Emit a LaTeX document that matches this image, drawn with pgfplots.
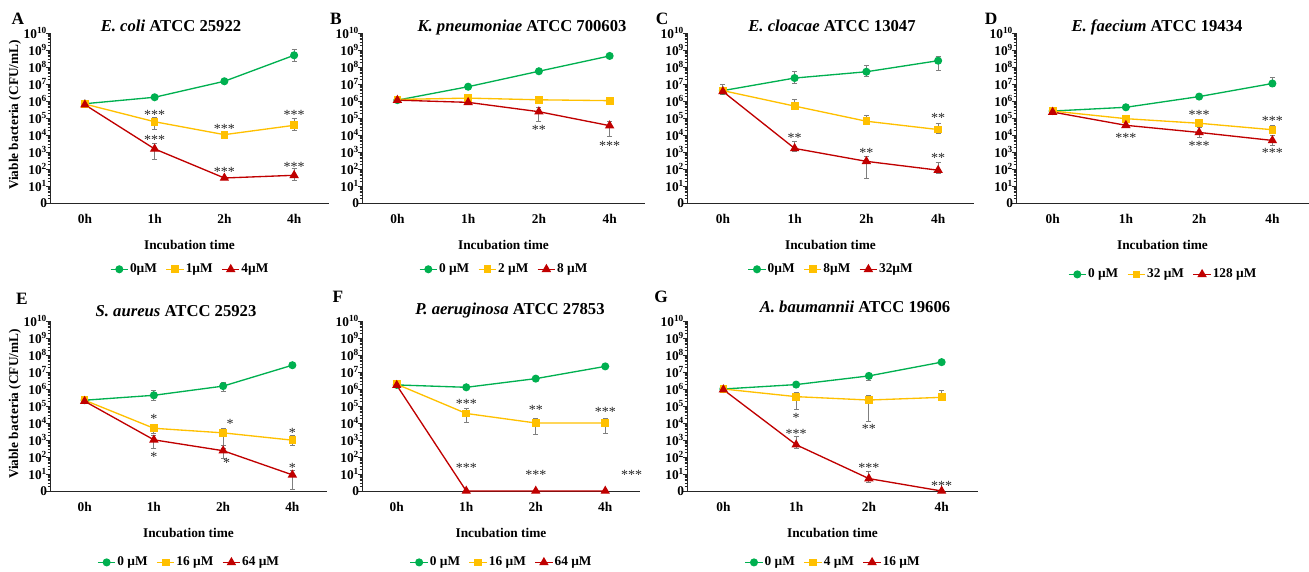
\documentclass[border=0pt]{standalone}
\usepackage{fontspec}
\setmainfont{Liberation Serif}
\usepackage{pgfplots}
\pgfplotsset{compat=1.18}
\definecolor{cgreen}{HTML}{00B050}
\definecolor{cgold}{HTML}{FFC000}
\definecolor{cred}{HTML}{C00000}
\definecolor{cerr}{HTML}{7F7F7F}

% log-style minor ticks on the decade axis (values are log10 CFU/mL)
\def\minorlist{-1}
\foreach \d in {0,...,9}{%
  \foreach \m in {0.301,0.477,0.602,0.699,0.778,0.845,0.903,0.954}{%
    \pgfmathsetmacro\v{\d+\m}\xdef\minorlist{\minorlist,\v}}}

\newcommand\fs[1]{\fontsize{#1}{#1}\selectfont}

\pgfplotsset{
  panel/.style={
    scale only axis, height=127.5pt,
    xmin=-0.5, xmax=3.5, ymin=0, ymax=10,
    clip=false,
    axis lines=left, axis line style={-, black!85, line width=0.6pt},
    xtick={0,1,2,3}, xticklabels={0h,1h,2h,4h},
    x tick style={draw=none},
    xticklabel style={anchor=center, yshift=-9pt, font=\bfseries\fs{10}},
    ytick={0,...,10},
    yticklabels={0,10\textsuperscript{1},10\textsuperscript{2},10\textsuperscript{3},10\textsuperscript{4},10\textsuperscript{5},10\textsuperscript{6},10\textsuperscript{7},10\textsuperscript{8},10\textsuperscript{9},10\textsuperscript{10}},
    yticklabel style={font=\bfseries\fs{10}, inner sep=0.5pt, xshift=1.5pt},
    minor ytick/.expand once=\minorlist,
    tick align=outside, major tick length=3pt, minor tick length=1.8pt,
    y tick style={black!85, line width=0.5pt},
    xlabel={Incubation time},
    xlabel style={at={(axis description cs:0.5,-0.245)}, anchor=center, font=\bfseries\fs{10}},
    legend style={at={(0.5,-0.39)}, anchor=center, draw=none, fill=none,
      legend columns=-1, font=\bfseries\fs{10}, inner sep=0pt,
      nodes={inner sep=0.5pt},
      /tikz/every odd column/.append style={column sep=0.5pt},
      /tikz/every even column/.append style={column sep=6pt}},
    legend image code/.code={\draw[mark repeat=2, mark phase=2]
      plot coordinates {(0cm,0cm) (0.23cm,0cm) (0.46cm,0cm)};},
  },
  ser/.style={color=#1, line width=1pt, mark options={solid, fill=#1},
    error bars/y dir=both, error bars/y explicit,
    error bars/error bar style={cerr, line width=0.6pt},
    error bars/error mark options={rotate=90, mark size=1.8pt, cerr, line width=0.6pt}},
  gser/.style={ser=cgreen, mark=*, mark size=2.5pt},
  yser/.style={ser=cgold, mark=square*, mark size=2.4pt},
  rser/.style={ser=cred, mark=triangle*, mark size=3.1pt},
}
\tikzset{
  sig/.style={font=\fs{10.5}, anchor=base, yshift=-5pt, text=black!85, inner sep=0pt},
  ttl/.style={font=\bfseries\fs{12.5}, anchor=base},
  lett/.style={font=\bfseries\fs{13}, anchor=base},
  ylab/.style={font=\bfseries\fs{10}, rotate=90, anchor=center},
}

\begin{document}
\begin{tikzpicture}
\path[use as bounding box] (0,0) rectangle (981.75pt,428.25pt);

% ---------- A ----------
\begin{axis}[panel, width=209.25pt, at={(37.5pt,276pt)}, anchor=south west]
\addplot[gser] coordinates {(0,5.84) (1,6.22) (2,7.16) (3,8.69) +- (0,0.35)};
\addplot[yser] coordinates {(0,5.82) (1,4.78) += (0,0.28) -= (0,0.47) (2,4.02) +- (0,0.1) (3,4.57) += (0,0.43) -= (0,0.3)};
\addplot[rser] coordinates {(0,5.78) (1,3.18) += (0,0.31) -= (0,0.59) (2,1.47) (3,1.63) += (0,0.43) -= (0,0.3)};
\legend{0µM,1µM,4µM}
\node[sig] at (axis cs:1,5.29) {***};
\node[sig] at (axis cs:2,4.47) {***};
\node[sig] at (axis cs:3,5.33) {***};
\node[sig] at (axis cs:1,3.82) {***};
\node[sig] at (axis cs:2,1.96) {***};
\node[sig] at (axis cs:3,2.22) {***};
\end{axis}

% ---------- B ----------
\begin{axis}[panel, width=212.25pt, at={(271.5pt,276pt)}, anchor=south west]
\addplot[gser] coordinates {(0,6.05) (1,6.84) (2,7.75) (3,8.65)};
\addplot[yser] coordinates {(0,6.09) (1,6.17) (2,6.07) (3,6.02)};
\addplot[rser] coordinates {(0,6.05) (1,5.92) (2,5.37) += (0,0.25) -= (0,0.58) (3,4.55) += (0,0.27) -= (0,0.65)};
\legend{0 µM,2 µM,8 µM}
\node[sig] at (axis cs:2,4.43) {**};
\node[sig] at (axis cs:3,3.47) {***};
\end{axis}

% ---------- C ----------
\begin{axis}[panel, width=215.25pt, at={(515.25pt,276pt)}, anchor=south west]
\addplot[gser] coordinates {(0,6.61) += (0,0.39) -= (0,0.2) (1,7.35) += (0,0.39) -= (0,0.3) (2,7.72) += (0,0.37) -= (0,0.3) (3,8.37) += (0,0.23) -= (0,0.59)};
\addplot[yser] coordinates {(0,6.61) (1,5.70) += (0,0.39) -= (0,0.2) (2,4.81) += (0,0.33) -= (0,0.2) (3,4.32) += (0,0.35) -= (0,0.2)};
\addplot[rser] coordinates {(0,6.56) (1,3.21) += (0,0.39) -= (0,0.2) (2,2.45) += (0,0.31) -= (0,0.99) (3,1.93) += (0,0.44) -= (0,0.2)};
\legend{0µM,8µM,32µM}
\node[sig] at (axis cs:3,5.14) {**};
\node[sig] at (axis cs:1,3.97) {**};
\node[sig] at (axis cs:2,3.09) {**};
\node[sig] at (axis cs:3,2.76) {**};
\end{axis}

% ---------- D ----------
\begin{axis}[panel, width=219.75pt, at={(762pt,276pt)}, anchor=south west,
  legend style={at={(0.5,-0.42)}}]
\addplot[gser] coordinates {(0,5.41) (1,5.63) (2,6.26) (3,7.03) += (0,0.35) -= (0,0.2)};
\addplot[yser] coordinates {(0,5.41) (1,4.96) (2,4.69) (3,4.31) += (0,0.24) -= (0,0.2)};
\addplot[rser] coordinates {(0,5.35) (1,4.57) +- (0,0.15) (2,4.15) +- (0,0.29) (3,3.68) +- (0,0.27)};
\legend{0 µM,32 µM,128 µM}
\node[sig] at (axis cs:2,5.28) {***};
\node[sig] at (axis cs:3,4.98) {***};
\node[sig] at (axis cs:1,3.94) {***};
\node[sig] at (axis cs:2,3.46) {***};
\node[sig] at (axis cs:3,3.07) {***};
\end{axis}

% ---------- E ----------
\begin{axis}[panel, width=207.75pt, at={(37.5pt,60pt)}, anchor=south west,
  legend style={at={(0.5,-0.42)}}]
\addplot[gser] coordinates {(0,5.34) +- (0,0.15) (1,5.63) +- (0,0.28) (2,6.17) += (0,0.24) -= (0,0.34) (3,7.40)};
\addplot[yser] coordinates {(0,5.34) (1,3.69) += (0,0.23) -= (0,0.3) (2,3.42) += (0,0.27) -= (0,0.9) (3,2.99) += (0,0.3) -= (0,0.33)};
\addplot[rser] coordinates {(0,5.28) +- (0,0.15) (1,3.01) += (0,0.25) -= (0,0.52) (2,2.37) += (0,0.3) -= (0,0.45) (3,0.95) += (0,0.25) -= (0,0.85)};
\legend{0 µM,16 µM,64 µM}
\node[sig] at (axis cs:1,4.37) {*};
\node[sig] at (axis cs:2.1,4.04) {*};
\node[sig] at (axis cs:3,3.55) {*};
\node[sig] at (axis cs:1,2.10) {*};
\node[sig] at (axis cs:2.05,1.75) {*};
\node[sig] at (axis cs:3,1.50) {*};
\end{axis}

% ---------- F ----------
\begin{axis}[panel, width=208.5pt, at={(271.5pt,60pt)}, anchor=south west,
  legend style={at={(0.5,-0.42)}}]
\addplot[gser] coordinates {(0,6.24) (1,6.10) (2,6.61) (3,7.33)};
\addplot[yser] coordinates {(0,6.28) (1,4.56) += (0,0.27) -= (0,0.54) (2,4.0) += (0,0.25) -= (0,0.67) (3,4.0) += (0,0.25) -= (0,0.59)};
\addplot[rser] coordinates {(0,6.22) (1,0) (2,0) (3,0)};
\legend{0 µM,16 µM,64 µM}
\node[sig] at (axis cs:1,5.26) {***};
\node[sig] at (axis cs:2,4.89) {**};
\node[sig] at (axis cs:3,4.80) {***};
\node[sig] at (axis cs:1,1.46) {***};
\node[sig] at (axis cs:2,1.07) {***};
\node[sig] at (axis cs:3.38,1.07) {***};
\end{axis}

% ---------- G ----------
\begin{axis}[panel, width=218.25pt, at={(515.25pt,60pt)}, anchor=south west,
  legend style={at={(0.5,-0.42)}}]
\addplot[gser] coordinates {(0,6.0) (1,6.26) (2,6.77) -= (0,0.25) += (0,0.1) (3,7.58) +- (0,0.15)};
\addplot[yser] coordinates {(0,6.0) (1,5.55) += (0,0.26) -= (0,0.77) (2,5.35) += (0,0.26) -= (0,1.28) (3,5.51) += (0,0.43) -= (0,0.2)};
\addplot[rser] coordinates {(0,5.96) (1,2.72) += (0,0.47) -= (0,0.2) (2,0.73) += (0,0.45) -= (0,0.2) (3,0)};
\legend{0 µM,4 µM,16 µM}
\node[sig] at (axis cs:1,4.43) {*};
\node[sig] at (axis cs:2,3.78) {**};
\node[sig] at (axis cs:1,3.48) {***};
\node[sig] at (axis cs:2,1.48) {***};
\node[sig] at (axis cs:3,0.43) {***};
\end{axis}

% titles, panel letters, y labels
\node[ttl] at (128.25pt,404.25pt) {\textit{E. coli} ATCC 25922};
\node[ttl] at (391.5pt,404.25pt) {\textit{K. pneumoniae} ATCC 700603};
\node[ttl] at (624pt,404.25pt) {\textit{E. cloacae} ATCC 13047};
\node[ttl] at (867.75pt,404.25pt) {\textit{E. faecium} ATCC 19434};
\node[ttl] at (132pt,190.5pt) {\textit{S. aureus} ATCC 25923};
\node[ttl] at (382.5pt,192pt) {\textit{P. aeruginosa} ATCC 27853};
\node[ttl] at (641.25pt,193.5pt) {\textit{A. baumannii} ATCC 19606};

\node[lett] at (13.5pt,409.5pt) {A};
\node[lett] at (252pt,409.5pt) {B};
\node[lett] at (496.5pt,409.5pt) {C};
\node[lett] at (743.25pt,409.5pt) {D};
\node[lett] at (16.5pt,199.5pt) {E};
\node[lett] at (253.5pt,201pt) {F};
\node[lett] at (495.75pt,201pt) {G};

\node[ylab] at (11.25pt,342pt) {Viable bacteria (CFU/mL)};
\node[ylab] at (11.25pt,125.25pt) {Viable bacteria (CFU/mL)};
\end{tikzpicture}
\end{document}
